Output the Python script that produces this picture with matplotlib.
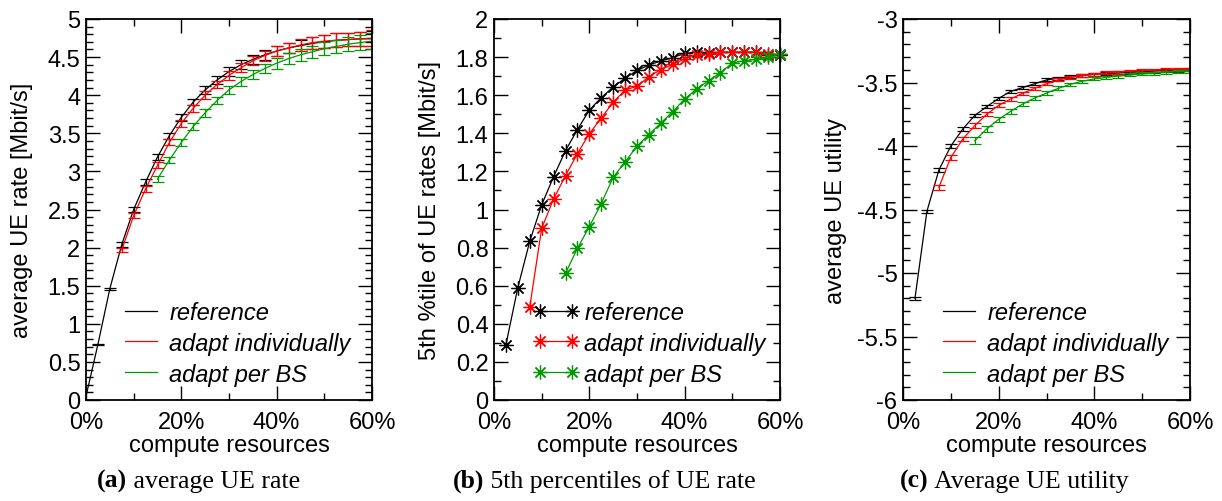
import matplotlib
matplotlib.use("Agg")
import matplotlib.pyplot as plt
from matplotlib.ticker import MultipleLocator, FuncFormatter
from matplotlib.lines import Line2D

plt.rcParams['font.family'] = ['Liberation Sans', 'DejaVu Sans']
plt.rcParams['axes.unicode_minus'] = False
plt.rcParams['font.size'] = 17

# compute resources [%]
x_ref = [2.5, 5, 7.5, 10, 12.5, 15, 17.5, 20, 22.5, 25, 27.5, 30, 32.5, 35,
         37.5, 40, 42.5, 45, 47.5, 50, 52.5, 55, 57.5, 60]
x_ind = [7.5, 10, 12.5, 15, 17.5, 20, 22.5, 25, 27.5, 30, 32.5, 35,
         37.5, 40, 42.5, 45, 47.5, 50, 52.5, 55, 57.5, 60]
x_bs = [15, 17.5, 20, 22.5, 25, 27.5, 30, 32.5, 35,
        37.5, 40, 42.5, 45, 47.5, 50, 52.5, 55, 57.5, 60]

# (a) average UE rate [Mbit/s]
rate_ref0 = 0.05  # value at 0%
rate_ref = [0.73, 1.46, 2.04, 2.50, 2.86, 3.19, 3.47, 3.71, 3.91, 4.07, 4.20, 4.31,
            4.40, 4.47, 4.53, 4.58, 4.62, 4.65, 4.68, 4.70, 4.72, 4.73, 4.74, 4.74]
rate_ind = [1.97, 2.42, 2.77, 3.08, 3.38, 3.63, 3.83, 4.00, 4.14, 4.26, 4.36,
            4.45, 4.52, 4.58, 4.62, 4.66, 4.69, 4.71, 4.72, 4.73, 4.74, 4.75]
rate_bs = [2.90, 3.15, 3.38, 3.59, 3.77, 3.93, 4.07, 4.18, 4.27, 4.35, 4.42,
           4.48, 4.53, 4.57, 4.61, 4.64, 4.67, 4.69, 4.71]
rate_ref_err = [0.01, 0.01, 0.03, 0.035, 0.035, 0.04, 0.04, 0.045, 0.045, 0.05, 0.05, 0.055,
                0.06, 0.06, 0.065, 0.07, 0.07, 0.075, 0.08, 0.085, 0.09, 0.09, 0.095, 0.10]
rate_ind_err = [0.03, 0.035, 0.035, 0.04, 0.04, 0.045, 0.045, 0.05, 0.05, 0.055, 0.06,
                0.06, 0.065, 0.07, 0.07, 0.075, 0.08, 0.085, 0.09, 0.09, 0.095, 0.10]
rate_bs_err = [0.04, 0.04, 0.045, 0.045, 0.05, 0.05, 0.055, 0.06, 0.06, 0.065, 0.07,
               0.07, 0.075, 0.08, 0.085, 0.09, 0.09, 0.095, 0.10]

# (b) 5th percentile of UE rates [Mbit/s]
p5_ref = [0.29, 0.59, 0.833, 1.024, 1.172, 1.309, 1.419, 1.522, 1.587, 1.643, 1.689, 1.73,
          1.758, 1.78, 1.797, 1.82, 1.825, 1.822, 1.825, 1.825, 1.825, 1.825, 1.81, 1.81]
p5_ind = [0.488, 0.901, 1.055, 1.178, 1.293, 1.398, 1.48, 1.563, 1.627, 1.647, 1.697,
          1.734, 1.762, 1.79, 1.813, 1.816, 1.825, 1.825, 1.825, 1.825, 1.815, 1.815]
p5_bs = [0.665, 0.796, 0.91, 1.031, 1.169, 1.249, 1.333, 1.393, 1.454, 1.514, 1.58,
         1.633, 1.676, 1.718, 1.769, 1.781, 1.788, 1.80, 1.816]

# (c) average UE utility
util_ref = [-5.20, -4.514, -4.19, -4.00, -3.866, -3.76, -3.69, -3.625, -3.57, -3.54, -3.51, -3.48,
            -3.465, -3.455, -3.445, -3.435, -3.43, -3.425, -3.42, -3.415, -3.41, -3.405, -3.403, -3.40]
util_ind = [-4.325, -4.09, -3.945, -3.84, -3.75, -3.68, -3.63, -3.585, -3.546, -3.51, -3.48,
            -3.46, -3.445, -3.435, -3.425, -3.418, -3.412, -3.407, -3.403, -3.40, -3.397, -3.395]
util_bs = [-3.958, -3.866, -3.79, -3.727, -3.67, -3.622, -3.583, -3.546, -3.514, -3.49, -3.472,
           -3.46, -3.45, -3.44, -3.432, -3.426, -3.42, -3.416, -3.41]
util_ref_err = [0.012, 0.012, 0.015, 0.015, 0.015, 0.015, 0.012, 0.012, 0.012, 0.012, 0.012, 0.012,
                0.012, 0.012, 0.012, 0.012, 0.012, 0.012, 0.012, 0.012, 0.012, 0.012, 0.012, 0.012]
util_ind_err = [0.02, 0.02, 0.018, 0.018, 0.015, 0.015, 0.015, 0.012, 0.012, 0.012, 0.012,
                0.012, 0.012, 0.012, 0.012, 0.012, 0.012, 0.012, 0.012, 0.012, 0.012, 0.012]
util_bs_err = [0.025, 0.022, 0.02, 0.018, 0.018, 0.015, 0.015, 0.015, 0.012, 0.012, 0.012,
               0.012, 0.012, 0.012, 0.012, 0.012, 0.012, 0.012, 0.012]

labels = ["reference", "adapt individually", "adapt per BS"]
colors = ["black", "#ff0000", "#009a00"]

W, H = 1222, 502
fig = plt.figure(figsize=(W / 100, H / 100), dpi=100)


def make_axes(left, right):
    ax = fig.add_axes([left / W, (H - 401) / H, (right - left) / W, 381 / H])
    ax.set_xlim(0, 60)
    ax.xaxis.set_major_locator(MultipleLocator(20))
    ax.xaxis.set_minor_locator(MultipleLocator(10))
    ax.xaxis.set_major_formatter(FuncFormatter(lambda v, p: f"{v:g}%"))
    ax.yaxis.set_major_formatter(FuncFormatter(lambda v, p: f"{v:g}"))
    ax.tick_params(which='both', direction='in', top=True, right=True, width=1)
    ax.tick_params(which='major', length=10)
    ax.tick_params(which='minor', length=5)
    ax.tick_params(axis='x', pad=8)
    ax.tick_params(axis='y', pad=4)
    for s in ax.spines.values():
        s.set_linewidth(1.3)
    ax.set_xlabel("compute resources")
    ax.xaxis.set_label_coords(0.5, -0.09)
    return ax


def add_legend(ax, x0, markers=False):
    if markers:
        handles = [Line2D([], [], color=c, lw=0.9, marker=(8, 2, 0), ms=10, mew=0.9)
                   for c in colors]
    else:
        handles = [Line2D([], [], color=c, lw=0.9) for c in colors]
    ax.legend(handles, labels, loc='upper left', bbox_to_anchor=(x0, 0.26),
              frameon=False, borderpad=0, borderaxespad=0, handlelength=1.95,
              handletextpad=0.22, labelspacing=0.33, numpoints=2,
              prop={'style': 'italic', 'size': 17})


def caption(x, bold, rest):
    t = fig.text(x / W, (H - 488) / H, bold, family='Liberation Serif',
                 fontweight='bold', size=18.5, va='baseline', ha='left')
    fig.axes[0].annotate(rest, xy=(1, 0), xycoords=t, va='bottom', ha='left',
                         family='Liberation Serif', size=18.5, annotation_clip=False)


def err_series(ax, xs, ys, es, c):
    ax.plot(xs, ys, color=c, lw=0.9)
    ax.errorbar(xs, ys, yerr=es, fmt='none', ecolor=c, elinewidth=0.9,
                capsize=4.2, capthick=0.9)


# (a)
ax1 = make_axes(86, 372)
ax1.set_ylim(0, 5)
ax1.yaxis.set_major_locator(MultipleLocator(0.5))
ax1.yaxis.set_minor_locator(MultipleLocator(0.1))
ax1.plot([0, x_ref[0]], [rate_ref0, rate_ref[0]], color=colors[0], lw=0.9)
err_series(ax1, x_ref, rate_ref, rate_ref_err, colors[0])
err_series(ax1, x_ind, rate_ind, rate_ind_err, colors[1])
err_series(ax1, x_bs, rate_bs, rate_bs_err, colors[2])
ax1.set_ylabel("average UE rate [Mbit/s]")
ax1.yaxis.set_label_coords(-0.185, 0.5)
add_legend(ax1, 0.112)

# (b)
ax2 = make_axes(494, 780)
ax2.set_ylim(0, 2)
ax2.yaxis.set_major_locator(MultipleLocator(0.2))
ax2.yaxis.set_minor_locator(MultipleLocator(0.1))
for xs, ys, c in [(x_ref, p5_ref, colors[0]), (x_ind, p5_ind, colors[1]), (x_bs, p5_bs, colors[2])]:
    ax2.plot(xs, ys, color=c, lw=0.9, marker=(8, 2, 0), ms=10, mew=0.9, clip_on=False)
ax2.set_ylabel("5th %tile of UE rates [Mbit/s]")
ax2.yaxis.set_label_coords(-0.185, 0.5)
add_legend(ax2, 0.136, markers=True)

# (c)
ax3 = make_axes(903, 1190)
ax3.set_ylim(-6, -3)
ax3.yaxis.set_major_locator(MultipleLocator(0.5))
ax3.yaxis.set_minor_locator(MultipleLocator(0.1))
err_series(ax3, x_ref, util_ref, util_ref_err, colors[0])
err_series(ax3, x_ind, util_ind, util_ind_err, colors[1])
err_series(ax3, x_bs, util_bs, util_bs_err, colors[2])
ax3.set_ylabel("average UE utility")
ax3.yaxis.set_label_coords(-0.195, 0.5)
add_legend(ax3, 0.115)

caption(97, "(a)", " average UE rate")
caption(453, "(b)", " 5th percentiles of UE rate")
caption(900, "(c)", " Average UE utility")

fig.savefig("out.png", dpi=100)
